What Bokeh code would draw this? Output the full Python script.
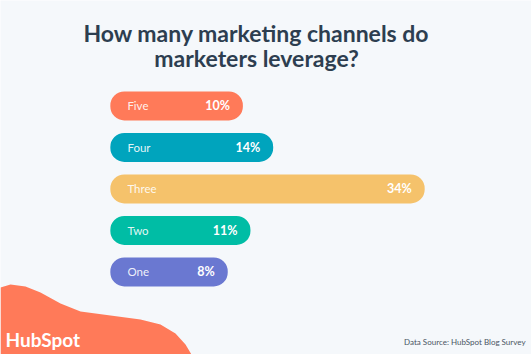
from bokeh.plotting import figure
from bokeh.models import Range1d, ColumnDataSource
from bokeh.core.properties import value
from bokeh.embed import file_html
from bokeh.resources import INLINE

# ---- data ----
categories = ["Five", "Four", "Three", "Two", "One"]
shares = [10, 14, 34, 11, 8]
bar_colors = ["#FF7A59", "#00A4BD", "#F5C26B", "#00BDA5", "#6A78D1"]
pct_labels = [f"{v}%" for v in shares]
title_lines = ["How many marketing channels do", "marketers leverage?"]
source_note = "Data Source: HubSpot Blog Survey"

W, H = 531, 354
BG = "#F5F8FB"

idx = list(range(len(categories)))
src = ColumnDataSource(dict(y=idx, v=shares, cat=categories, pct=pct_labels, color=bar_colors))

p = figure(width=W, height=H, output_backend="svg", toolbar_location=None,
           x_range=Range1d(-22.0, 48.1), y_range=Range1d(5.99, -2.54),
           x_axis_location=None, y_axis_location=None, min_border=0,
           background_fill_color=BG, border_fill_color=BG, outline_line_color=None)
p.grid.visible = False

# pixel-space ranges for decorations
p.extra_x_ranges = {"px": Range1d(0, W)}
p.extra_y_ranges = {"px": Range1d(H, 0)}

# decorative blob bottom-left
bx = [0, 0, 10, 25, 40, 60, 80, 110, 140, 160, 175, 185, 191, 191]
by = [354, 287, 284, 286, 292, 303, 311, 315, 319, 324, 333, 344, 354, 354]
p.patch(bx, by, x_range_name="px", y_range_name="px", fill_color="#FF7A59", line_color=None)

p.text(x=[5], y=[339], text=["HubSpot"], x_range_name="px", y_range_name="px",
       text_font=value("Lato"), text_font_style="bold", text_font_size="19px",
       text_color="white", text_baseline="middle")

# bars
p.hbar(y="y", left=-7.5, right="v", height=0.7, fill_color="color", line_color=None,
       border_radius=14, source=src)

p.text(x=-5.25, y="y", text="cat", source=src, text_font=value("Lato"),
       text_font_size="11.5px", text_color="white", text_alpha=0.9,
       text_baseline="middle", text_align="left")
p.text(x="v", y="y", text="pct", source=src, x_offset=-13, text_font=value("Lato"),
       text_font_style="bold", text_font_size="12.5px", text_color="white",
       text_baseline="middle", text_align="right")

# title
p.text(x=[256, 256], y=[32, 57], text=title_lines, x_range_name="px", y_range_name="px",
       text_font=value("Lato"), text_font_style="bold", text_font_size="23px",
       text_color="#2D3E50", text_align="center", text_baseline="middle")

p.text(x=[525], y=[341], text=[source_note], x_range_name="px", y_range_name="px",
       text_font=value("Lato"), text_font_size="8px", text_color="#4A5563",
       text_align="right", text_baseline="middle")

open("out.html", "w").write(file_html(p, INLINE))
